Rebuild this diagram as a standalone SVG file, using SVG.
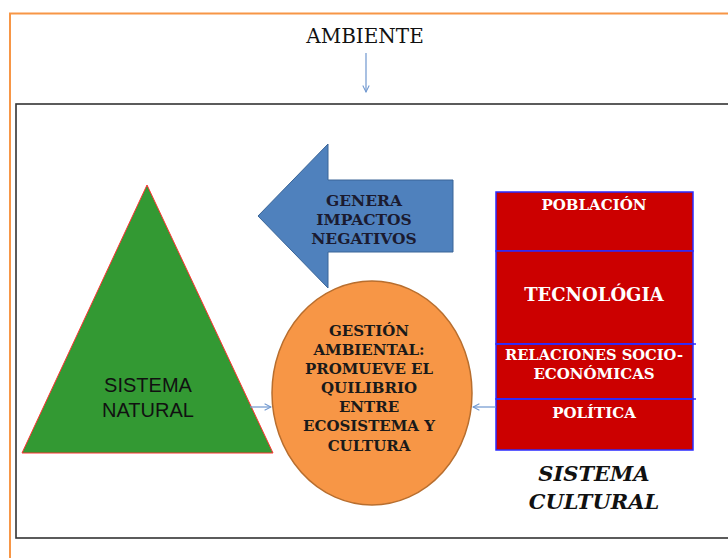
<svg xmlns="http://www.w3.org/2000/svg" width="728" height="558" viewBox="0 0 728 558">
  <defs>
    <marker id="open" viewBox="0 0 10 10" refX="9" refY="5" markerWidth="8" markerHeight="8" markerUnits="userSpaceOnUse" orient="auto">
      <path d="M1,1 L9,5 L1,9" fill="none" stroke="#6F97CF" stroke-width="1.3"/>
    </marker>
  </defs>
  <style>
    .serif { font-family: "DejaVu Serif", "Liberation Serif", serif; }
    .b { font-weight: bold; }
    .conn { stroke: #6F97CF; stroke-width: 1.2; fill: none; marker-end: url(#open); }
    .cell { fill: #CC0000; stroke: #2B2BFF; stroke-width: 1.5; }
    .div { stroke: #2B2BFF; stroke-width: 1.5; }
    .wt { fill: #FFFFFF; font-weight: bold; text-anchor: middle; }
    .dk { fill: #1A1A1A; font-weight: bold; text-anchor: middle; font-size: 15px; }
  </style>
  <rect width="728" height="558" fill="#FFFFFF"/>

  <g id="ambiente">
    <rect x="10" y="13.5" width="730" height="560" fill="none" stroke="#F79646" stroke-width="2"/>
    <text class="serif" x="365" y="43" font-size="20" text-anchor="middle" fill="#111111">AMBIENTE</text>
  </g>

  <g id="marco">
    <rect x="16" y="104" width="720" height="434" fill="none" stroke="#333333" stroke-width="1.6"/>
  </g>

  <g id="sistema-natural">
    <polygon points="147,185 273,453 22,453" fill="#339933" stroke="#FF3333" stroke-width="1"/>
    <text x="148" y="392" font-family="'Liberation Sans', Arial, sans-serif" font-size="20" text-anchor="middle" fill="#111111">SISTEMA</text>
    <text x="148" y="417" font-family="'Liberation Sans', Arial, sans-serif" font-size="20" text-anchor="middle" fill="#111111">NATURAL</text>
  </g>

  <g id="impactos">
    <polygon points="258,216 328,144 328,180 453,180 453,252 328,252 328,288" fill="#4F81BD" stroke="#3A6597" stroke-width="1"/>
    <text class="serif b" x="364" y="206" font-size="15.5" text-anchor="middle" fill="#1B1B30">GENERA</text>
    <text class="serif b" x="364" y="225" font-size="15.5" text-anchor="middle" fill="#1B1B30">IMPACTOS</text>
    <text class="serif b" x="364" y="244" font-size="15.5" text-anchor="middle" fill="#1B1B30">NEGATIVOS</text>
  </g>

  <g id="gestion">
    <ellipse cx="372" cy="393" rx="100" ry="112" fill="#F79646" stroke="#B86E2E" stroke-width="1.5"/>
    <text class="serif dk" x="369" y="335.5">GESTIÓN</text>
    <text class="serif dk" x="369" y="355">AMBIENTAL:</text>
    <text class="serif dk" x="369" y="374">PROMUEVE EL</text>
    <text class="serif dk" x="369" y="393">QUILIBRIO</text>
    <text class="serif dk" x="369" y="412">ENTRE</text>
    <text class="serif dk" x="369" y="431">ECOSISTEMA Y</text>
    <text class="serif dk" x="369" y="451">CULTURA</text>
  </g>

  <g id="sistema-cultural">
    <rect class="cell" x="496" y="192" width="197" height="59"/>
    <rect class="cell" x="496" y="251" width="197" height="93"/>
    <rect class="cell" x="496" y="344" width="197" height="55"/>
    <rect class="cell" x="496" y="399" width="197" height="51"/>
    <line class="div" x1="496" y1="344" x2="696" y2="344"/>
    <line class="div" x1="496" y1="399" x2="696" y2="399"/>
    <text class="serif wt" x="594" y="210" font-size="15">POBLACIÓN</text>
    <text class="serif wt" x="594" y="301" font-size="18">TECNOLÓGIA</text>
    <text class="serif wt" x="594" y="359.5" font-size="15" textLength="178" lengthAdjust="spacingAndGlyphs">RELACIONES SOCIO-</text>
    <text class="serif wt" x="594" y="378.5" font-size="15">ECONÓMICAS</text>
    <text class="serif wt" x="594" y="417.5" font-size="15">POLÍTICA</text>
    <text class="serif" x="594" y="481" font-size="21" font-weight="bold" font-style="italic" text-anchor="middle" fill="#111111">SISTEMA</text>
    <text class="serif" x="594" y="509" font-size="21" font-weight="bold" font-style="italic" text-anchor="middle" fill="#111111">CULTURAL</text>
  </g>

  <g id="conectores">
    <line class="conn" x1="366" y1="53" x2="366" y2="92"/>
    <line class="conn" x1="250" y1="407" x2="271" y2="407"/>
    <line class="conn" x1="496" y1="407" x2="473" y2="407"/>
  </g>
</svg>
